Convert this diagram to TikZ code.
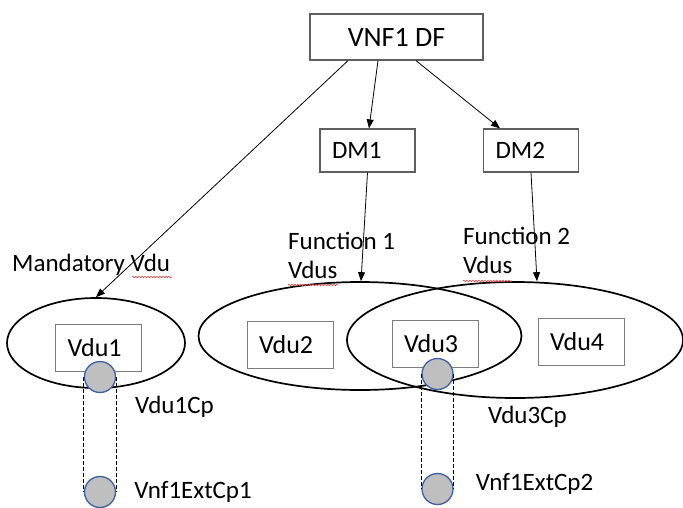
\documentclass[tikz,border=0pt]{standalone}
\usepackage{fontspec}
\setmainfont{Carlito}
\usetikzlibrary{shapes.geometric,arrows.meta,positioning,decorations.pathmorphing}
\definecolor{boxline}{RGB}{95,95,95}
\definecolor{vduline}{RGB}{125,125,125}
\definecolor{cpfill}{RGB}{191,191,191}
\definecolor{cpline}{RGB}{60,95,165}
\definecolor{spellred}{RGB}{225,70,70}
\tikzset{
    dfbox/.style={rectangle, draw=boxline, line width=1.2pt, minimum width=173pt, minimum height=46pt, align=center, font=\fontsize{28}{32}\selectfont},
    dmbox/.style={rectangle, draw=boxline, line width=1.2pt, minimum height=43pt, inner xsep=12pt, text width=71pt, align=left, font=\fontsize{25}{30}\selectfont},
    vdubox/.style={rectangle, draw=vduline, line width=1pt, minimum height=47pt, inner xsep=12pt, text width=62pt, align=left, font=\fontsize{26}{30}\selectfont},
    group/.style={ellipse, draw, line width=1.7pt, inner sep=0pt},
    cp/.style={circle, draw=cpline, line width=1.3pt, fill=cpfill, minimum size=31pt, inner sep=0pt},
    lbl/.style={font=\fontsize{25}{29}\selectfont, inner sep=0pt, align=left},
    flow/.style={-{Triangle[length=9pt, width=7pt]}, line width=0.8pt},
    link/.style={line width=1.2pt, dash pattern=on 4pt off 2pt},
    squiggle/.style={spellred, line width=0.6pt, decorate, decoration={snake, amplitude=0.8pt, segment length=3pt}},
}
\begin{document}
\begin{tikzpicture}[x=1pt, y=-1pt]
    \useasboundingbox (0,0) rectangle (683,507);

    % groups of vdus
    \node[group, minimum width=178pt, minimum height=90pt] (mand) at (96,343) {};
    \node[group, minimum width=323pt, minimum height=108pt] (fun1) at (360,336) {};
    \node[group, minimum width=336pt, minimum height=116pt] (fun2) at (515,340) {};

    % deployment flavour and its parts
    \node[dfbox] (df) at (396.5,37) {VNF1 DF};
    \node[dmbox] (dm1) at (367.5,150.5) {DM1};
    \node[dmbox] (dm2) at (531,150.5) {DM2};

    \node[vdubox] (vdu1) at (98.5,348) {Vdu1};
    \node[vdubox] (vdu2) at (290,344.5) {Vdu2};
    \node[vdubox] (vdu3) at (435,343.5) {Vdu3};
    \node[vdubox] (vdu4) at (581,342) {Vdu4};

    % labels
    \node[lbl, anchor=north west] (mandlbl) at (12,254) {Mandatory Vdu};
    \node[lbl, anchor=north west] (fun1lbl) at (288,232) {Function 1\\Vdus};
    \node[lbl, anchor=north west] (fun2lbl) at (463,227) {Function 2\\Vdus};

    % connection points
    \node[cp] (cp1) at (100,377) {};
    \node[cp] (ext1) at (100,492) {};
    \node[cp] (cp3) at (437.5,374) {};
    \node[cp] (ext2) at (437.5,489) {};

    \node[lbl, anchor=north west] (cp1lbl) at (135,396) {Vdu1Cp};
    \node[lbl, anchor=north west] (cp3lbl) at (488,406) {Vdu3Cp};
    \node[lbl, right=18pt of ext1] (ext1lbl) {Vnf1ExtCp1};
    \node[lbl, right=22pt of ext2, yshift=5pt] (ext2lbl) {Vnf1ExtCp2};

    \draw[link] (cp1.west) -- (ext1.west);
    \draw[link] (cp1.east) -- (ext1.east);
    \draw[link] (cp3.west) -- (ext2.west);
    \draw[link] (cp3.east) -- (ext2.east);

    % spelling marks
    \draw[squiggle] (132,277) -- (172,277);
    \draw[squiggle] (288,285) -- (338,285);
    \draw[squiggle] (463,281) -- (512,281);

    \draw[flow] ([xshift=-48.5pt]df.south) -- (mand.north);
    \draw[flow] ([xshift=-18.5pt]df.south) -- ([xshift=1.5pt]dm1.north);
    \draw[flow] ([xshift=19.5pt]df.south) -- ([xshift=-31pt]dm2.north);
    \draw[flow] (dm1.south) -- ([xshift=1pt]fun1.north);
    \draw[flow] (dm2.south) -- ([xshift=22pt]fun2.north);
\end{tikzpicture}
\end{document}
